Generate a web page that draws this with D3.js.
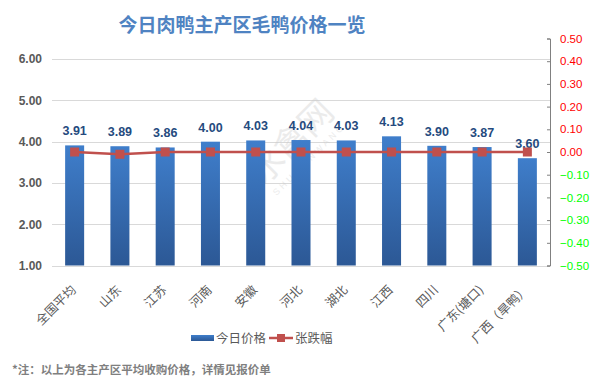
<!DOCTYPE html>
<html><head><meta charset="utf-8">
<script src="https://cdn.jsdelivr.net/npm/d3@7/dist/d3.min.js"></script>
<style>
body{margin:0;background:#fff;}
svg{display:block;}
</style></head>
<body>
<svg id="chart" width="593" height="391"></svg>
<script>
const categories = ["全国平均","山东","江苏","河南","安徽","河北","湖北","江西","四川","广东(塘口)","广西（旱鸭）"];
const prices = [3.91,3.89,3.86,4.00,4.03,4.04,4.03,4.13,3.90,3.87,3.60];
const changes = [0.00,-0.01,0.00,0.00,0.00,0.00,0.00,0.00,0.00,0.00,0.00];
const leftTicks = [1,2,3,4,5,6];
const rightTicks = [-0.5,-0.4,-0.3,-0.2,-0.1,0,0.1,0.2,0.3,0.4,0.5];
const seriesNames = ["今日价格","张跌幅"];
const title = "今日肉鸭主产区毛鸭价格一览";
const note = "*注：以上为各主产区平均收购价格，详情见报价单";

const svg = d3.select("#chart");
const L = 52, R = 550, T = 38.5, B = 265.5;
const cjk = "'Noto Sans CJK SC','Noto Sans',sans-serif";
const latin = "'Liberation Sans',Arial,sans-serif";

const defs = svg.append("defs");
const g1 = defs.append("linearGradient").attr("id","barGrad").attr("x1",0).attr("y1",0).attr("x2",0).attr("y2",1);
g1.append("stop").attr("offset","0%").attr("stop-color","#3f7ecb");
g1.append("stop").attr("offset","100%").attr("stop-color","#2c5895");
const g2 = defs.append("linearGradient").attr("id","legGrad").attr("x1",0).attr("y1",0).attr("x2",0).attr("y2",1);
g2.append("stop").attr("offset","0%").attr("stop-color","#3f7ecb");
g2.append("stop").attr("offset","100%").attr("stop-color","#2c5895");

const x = d3.scaleBand().domain(categories).range([L,R]).paddingInner(0.58).paddingOuter(0.29);
const y = d3.scaleLinear().domain([1,6.5]).range([B,T]);
const y2 = d3.scaleLinear().domain([-0.5,0.5]).range([B,T]);

// title
svg.append("text").attr("x",242).attr("y",32).attr("text-anchor","middle")
  .attr("font-family",cjk).attr("font-weight","bold").attr("font-size",19)
  .attr("fill","#4f83c2").text(title);

// gridlines
svg.append("g").selectAll("line").data(leftTicks).join("line")
  .attr("x1",L).attr("x2",R).attr("y1",d=>Math.round(y(d))+0.5).attr("y2",d=>Math.round(y(d))+0.5)
  .attr("stroke","#d9d9d9").attr("stroke-width",1);

// left axis labels
const ya = d3.axisLeft(y).tickValues(leftTicks).tickFormat(d3.format(".2f")).tickSize(0).tickPadding(10);
const gy = svg.append("g").attr("transform",`translate(${L},0)`).call(ya);
gy.select(".domain").remove();
gy.selectAll("text").attr("font-family",latin).attr("font-weight","bold").attr("font-size",12).attr("fill","#595959");

// watermark
const wm = svg.append("g").attr("transform","translate(300,150) rotate(-45)").attr("opacity",0.35);
wm.append("text").attr("text-anchor","middle").attr("font-family",cjk).attr("font-size",34).attr("fill","#c8c8c8").attr("y",0).text("水禽网");
wm.append("text").attr("text-anchor","middle").attr("font-family",latin).attr("font-size",9).attr("fill","#c8c8c8").attr("letter-spacing",3).attr("y",16).text("SHUIQINWANG");

// bars
svg.append("g").selectAll("rect").data(prices).join("rect")
  .attr("x",(d,i)=>x(categories[i])).attr("width",x.bandwidth())
  .attr("y",d=>y(d)).attr("height",d=>y(1)-y(d))
  .attr("fill","url(#barGrad)");

// bar labels
svg.append("g").selectAll("text").data(prices).join("text")
  .attr("x",(d,i)=>x(categories[i])+x.bandwidth()/2).attr("y",d=>y(d)-10)
  .attr("text-anchor","middle").attr("font-family",latin).attr("font-weight","bold").attr("font-size",12.5)
  .attr("fill","#254a7e").text(d=>d.toFixed(2));

// line
const line = d3.line().x((d,i)=>x(categories[i])+x.bandwidth()/2).y(d=>y2(d));
svg.append("path").datum(changes).attr("d",line).attr("fill","none").attr("stroke","#c0504d").attr("stroke-width",2.5);
svg.append("g").selectAll("rect").data(changes).join("rect")
  .attr("x",(d,i)=>x(categories[i])+x.bandwidth()/2-4.5).attr("y",d=>y2(d)-4.5)
  .attr("width",9).attr("height",9).attr("fill","#c0504d");

// right axis
const ra = d3.axisRight(y2).tickValues(rightTicks).tickFormat(d3.format(".2f")).tickSize(-3).tickSizeOuter(-3).tickPadding(10);
const gr = svg.append("g").attr("transform",`translate(${R},0)`).call(ra);
gr.select(".domain").attr("stroke","#808080");
gr.selectAll(".tick line").attr("stroke","#808080");
gr.selectAll("text").attr("font-family",latin).attr("font-size",11.5)
  .attr("fill",d=>d<0?"#00ff00":"#ff0000");

// x axis labels
svg.append("g").selectAll("text").data(categories).join("text")
  .attr("transform",d=>`translate(${x(d)+x.bandwidth()/2-1},${B+22}) rotate(-45)`)
  .attr("text-anchor","end").attr("dy","0.35em")
  .attr("font-family",cjk).attr("font-size",12.5).attr("fill","#595959").text(d=>d);

// legend
const lg = svg.append("g");
lg.append("rect").attr("x",191).attr("y",335).attr("width",23).attr("height",6).attr("fill","url(#legGrad)");
lg.append("text").attr("x",216).attr("y",342.5).attr("font-family",cjk).attr("font-size",12.5).attr("fill","#595959").text(seriesNames[0]);
lg.append("line").attr("x1",269).attr("x2",293).attr("y1",338).attr("y2",338).attr("stroke","#c0504d").attr("stroke-width",2.5);
lg.append("rect").attr("x",277).attr("y",334).attr("width",8).attr("height",8).attr("fill","#c0504d");
lg.append("text").attr("x",295).attr("y",342.5).attr("font-family",cjk).attr("font-size",12.5).attr("fill","#595959").text(seriesNames[1]);

// note
svg.append("text").attr("x",12).attr("y",374).attr("font-family",cjk).attr("font-weight","bold").attr("font-size",11.5)
  .attr("fill","#7f7f7f").text(note);
</script>
</body></html>
